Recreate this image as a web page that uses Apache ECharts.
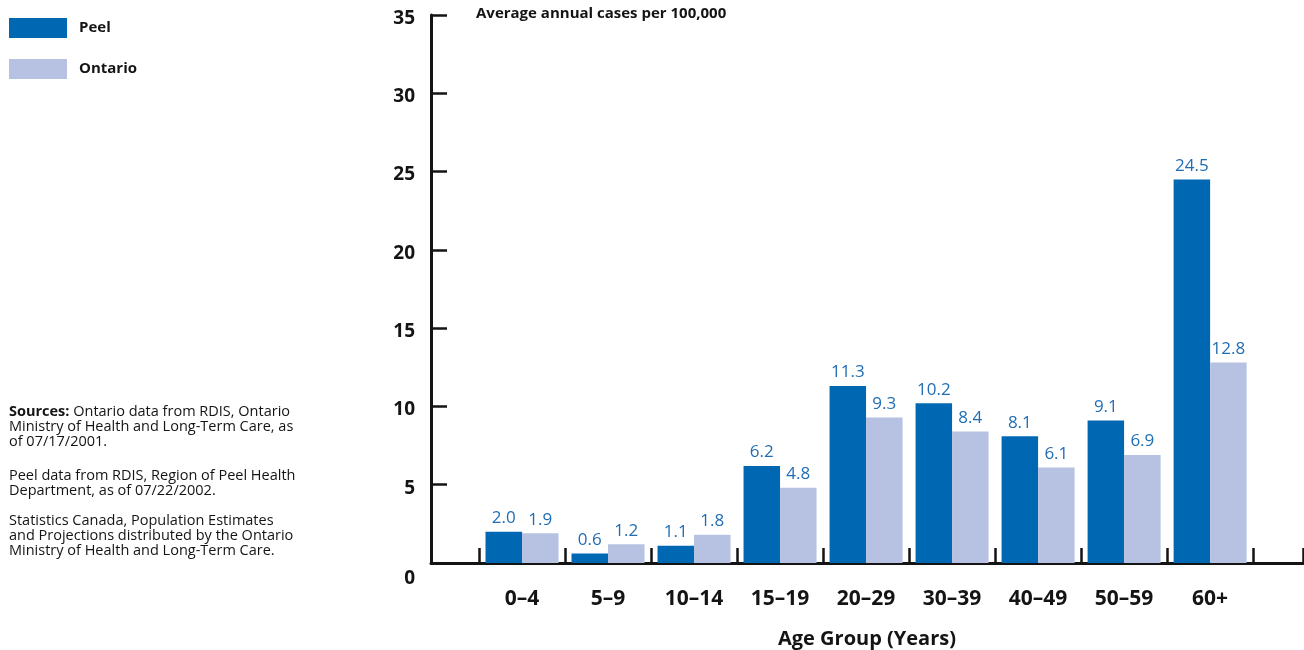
<!DOCTYPE html>
<html>
<head>
<meta charset="utf-8">
<script src="https://cdn.jsdelivr.net/npm/echarts@6/dist/echarts.min.js"></script>
<style>
  html, body { margin: 0; padding: 0; background: #fff; }
  #chart { width: 1304px; height: 650px; }
</style>
</head>
<body>
<div id="chart"></div>
<script>
// age groups and rates (average annual cases per 100,000)
const categories = ['0–4', '5–9', '10–14', '15–19', '20–29', '30–39', '40–49', '50–59', '60+']
const peel = [2.0, 0.6, 1.1, 6.2, 11.3, 10.2, 8.1, 9.1, 24.5]
const ontario = [1.9, 1.2, 1.8, 4.8, 9.3, 8.4, 6.1, 6.9, 12.8]
const yTicks = [0, 5, 10, 15, 20, 25, 30, 35]

const FONT = '"Open Sans", "DejaVu Sans", sans-serif'
const INK = '#141414'
const BLUE_LABEL = '#1f6db4'

// x is a value axis so the axis can run past the first and last group
const xMin = -0.558
const xMax = 9.58
const tickVals = categories.map((c, i) => i).concat([categories.length, xMax])
const labelVals = categories.map((c, i) => i + 0.5)

let chart = echarts.init(document.getElementById('chart'))

let barLabel = {
    show: true,
    position: 'top',
    distance: 5,
    color: BLUE_LABEL,
    fontSize: 17,
    fontFamily: FONT,
    formatter: (p) => p.value[1].toFixed(1)
}

let yLab = {fontSize: 19, fontWeight: 'bold', color: INK, fontFamily: FONT}

chart.setOption({
    animation: false,
    textStyle: {fontFamily: FONT},
    title: {
        text: 'Average annual cases per 100,000',
        left: 476,
        top: 6,
        padding: 0,
        textStyle: {fontSize: 15, fontWeight: 'bold', color: INK, fontFamily: FONT}
    },
    legend: {
        data: ['Peel', 'Ontario'],
        orient: 'vertical',
        left: 9,
        top: 18,
        padding: 0,
        icon: 'rect',
        itemWidth: 58,
        itemHeight: 20,
        itemGap: 21,
        textStyle: {fontSize: 15, fontWeight: 'bold', color: INK, fontFamily: FONT, padding: [3, 0, 0, 7]}
    },
    graphic: [
        {
            type: 'text', left: 9, top: 404,
            style: {
                text: '{b|Sources:} Ontario data from RDIS, Ontario\nMinistry of Health and Long-Term Care, as\nof 07/17/2001.',
                fontSize: 14.5, fontFamily: FONT, fill: INK, lineHeight: 15,
                rich: {b: {fontSize: 14.5, fontFamily: FONT, fontWeight: 'bold', lineHeight: 15, fill: INK}}
            }
        },
        {
            type: 'text', left: 9, top: 468,
            style: {
                text: 'Peel data from RDIS, Region of Peel Health\nDepartment, as of 07/22/2002.',
                fontSize: 14.5, fontFamily: FONT, fill: INK, lineHeight: 15
            }
        },
        {
            type: 'text', left: 9, top: 513,
            style: {
                text: 'Statistics Canada, Population Estimates\nand Projections distributed by the Ontario\nMinistry of Health and Long-Term Care.',
                fontSize: 14.5, fontFamily: FONT, fill: INK, lineHeight: 15
            }
        }
    ],
    grid: {left: 431, right: 1, top: 15, bottom: 87, containLabel: false, outerBoundsMode: 'none'},
    xAxis: {
        type: 'value',
        min: xMin,
        max: xMax,
        name: 'Age Group (Years)',
        nameLocation: 'middle',
        nameGap: 66,
        nameTextStyle: {fontSize: 20, fontWeight: 'bold', color: INK, fontFamily: FONT},
        axisLine: {show: true, lineStyle: {color: INK, width: 3}},
        axisTick: {show: true, inside: true, length: 15, customValues: tickVals, lineStyle: {color: INK, width: 2.5}},
        axisLabel: {
            customValues: labelVals,
            margin: 26,
            fontSize: 21,
            fontWeight: 'bold',
            color: INK,
            fontFamily: FONT,
            formatter: (v) => categories[Math.round(v - 0.5)]
        },
        splitLine: {show: false}
    },
    yAxis: {
        type: 'value',
        min: 0,
        max: 35,
        interval: 5,
        axisLine: {show: true, onZero: false, lineStyle: {color: INK, width: 3}},
        axisTick: {show: true, inside: true, length: 16, customValues: yTicks, lineStyle: {color: INK, width: 2.5}},
        axisLabel: {
            margin: 16,
            formatter: (v) => v === 0 ? '{z|0}' : '{n|' + v + '}',
            rich: {
                n: Object.assign({padding: [7, 0, 0, 0]}, yLab),
                z: Object.assign({padding: [31, 0, 0, 0]}, yLab)
            }
        },
        splitLine: {show: false}
    },
    series: [
        {
            name: 'Peel',
            type: 'bar',
            barWidth: 36.5,
            barGap: '0%',
            itemStyle: {color: '#0068b3'},
            label: barLabel,
            data: peel.map((v, i) => [i + 0.5, v])
        },
        {
            name: 'Ontario',
            type: 'bar',
            barWidth: 36.5,
            barGap: '0%',
            itemStyle: {color: '#b7c1e2'},
            label: barLabel,
            data: ontario.map((v, i) => [i + 0.5, v])
        }
    ]
})
</script>
</body>
</html>
